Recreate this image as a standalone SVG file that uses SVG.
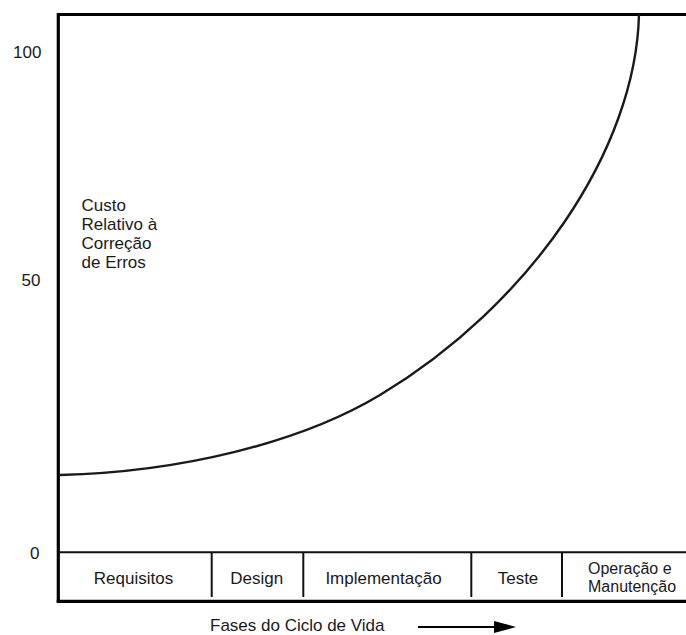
<svg xmlns="http://www.w3.org/2000/svg" width="686" height="635" viewBox="0 0 686 635">
  <style>
    text { font-family: "Liberation Sans", Arial, sans-serif; font-size: 17px; fill: #1a1a1a; }
    .small { font-size: 16px; }
    .frame { stroke: #000; stroke-width: 3.2; fill: none; }
    .thin { stroke: #111; stroke-width: 2; fill: none; }
    .curve { stroke: #1a1a1a; stroke-width: 2.4; fill: none; }
    .mid { text-anchor: middle; }
  </style>
  <rect width="686" height="635" fill="#fff"/>
  <g id="frame">
    <line class="frame" x1="58.3" y1="14.5" x2="686" y2="14.5"/>
    <line class="frame" x1="58.3" y1="13" x2="58.3" y2="602.5"/>
    <line class="frame" x1="56.7" y1="601.3" x2="686" y2="601.3"/>
    <line class="thin" x1="58" y1="552.3" x2="686" y2="552.3"/>
  </g>
  <g id="y-axis-labels">
    <text x="13" y="57.5">100</text>
    <text x="21.5" y="286">50</text>
    <text x="30" y="559">0</text>
  </g>
  <g id="y-title">
    <text x="81.5" y="210.5">Custo</text>
    <text x="81.5" y="229.5">Relativo à</text>
    <text x="81.5" y="248.5">Correção</text>
    <text x="81.5" y="267.5">de Erros</text>
  </g>
  <g id="curve-line">
    <path class="curve" d="M 60 475 C 180 472 300 443 380 395 C 530 305 636 150 639 14"/>
  </g>
  <g id="phases">
    <g id="phase-dividers">
      <line class="thin" x1="211.7" y1="552" x2="211.7" y2="597"/>
      <line class="thin" x1="303.3" y1="552" x2="303.3" y2="597"/>
      <line class="thin" x1="471.3" y1="552" x2="471.3" y2="597"/>
      <line class="thin" x1="562" y1="552" x2="562" y2="597"/>
    </g>
    <g id="phase-requisitos"><text class="mid" x="133.5" y="583.5">Requisitos</text></g>
    <g id="phase-design"><text class="mid" x="256.7" y="583.5">Design</text></g>
    <g id="phase-implementacao"><text class="mid" x="383.5" y="583.5">Implementação</text></g>
    <g id="phase-teste"><text class="mid" x="518" y="583.5">Teste</text></g>
    <g id="phase-operacao">
      <text class="small" x="588" y="573.5">Operação e</text>
      <text class="small" x="588" y="592">Manutenção</text>
    </g>
  </g>
  <g id="x-title">
    <text x="210" y="631">Fases do Ciclo de Vida</text>
    <line x1="418" y1="627" x2="496" y2="627" stroke="#000" stroke-width="2"/>
    <polygon points="494,621 516,627 494,633" fill="#000"/>
  </g>
</svg>
